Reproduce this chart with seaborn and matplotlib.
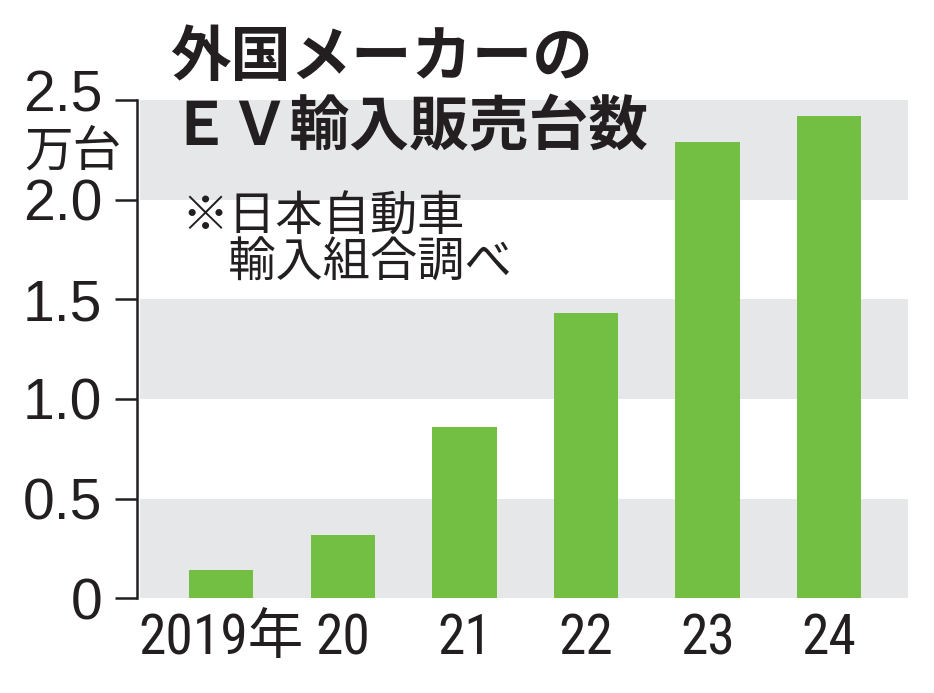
import matplotlib
matplotlib.use('Agg')
import matplotlib.pyplot as plt
import matplotlib.transforms as mtrans
import seaborn as sns
import pandas as pd

years = ["2019年", "20", "21", "22", "23", "24"]
sales = [0.14, 0.32, 0.86, 1.43, 2.29, 2.42]
yticks = [0, 0.5, 1.0, 1.5, 2.0, 2.5]
ytick_labels = ["0", "0.5", "1.0", "1.5", "2.0", "2.5"]
title_lines = ["外国メーカーの", "ＥＶ輸入販売台数"]
note_lines = ["※日本自動車", "　輸入組合調べ"]
unit = "万台"

sns.set_theme(style="white")
plt.rcParams['font.family'] = ['Noto Sans CJK JP', 'DejaVu Sans']

NUM_FONT = ['Roboto Condensed', 'Liberation Sans Narrow', 'DejaVu Sans', 'Noto Sans CJK JP']
Y_FONT = ['Liberation Sans', 'DejaVu Sans']
DARK = '#231F20'
GREEN = '#72BF44'
GREY = '#E6E7E8'

W, H = 934, 693
fig = plt.figure(figsize=(W / 100, H / 100), dpi=100)
ax = fig.add_axes([137 / W, (H - 598.3) / H, (908 - 137) / W, (598.3 - 100) / H])

df = pd.DataFrame({"year": years, "sales": sales})
sns.barplot(data=df, x="year", y="sales", color=GREEN, width=0.53,
            saturation=1, ax=ax, zorder=3, order=years, linewidth=0)

for i in range(0, len(yticks) - 1, 2):
    ax.axhspan(yticks[i], yticks[i + 1], xmin=0.004, xmax=1, color=GREY, lw=0, zorder=0)

ax.set_xlim(-0.692, 5.648)
ax.set_ylim(0, 2.5)
ax.set_yticks(yticks)
ax.set_yticklabels(ytick_labels)
ax.set_xlabel('')
ax.set_ylabel('')
for s in ['top', 'right', 'bottom']:
    ax.spines[s].set_visible(False)
ax.spines['left'].set_color(DARK)
ax.spines['left'].set_linewidth(1.8)
ax.tick_params(axis='y', length=16, width=1.8, color=DARK, direction='out', pad=9, left=True)
ax.tick_params(axis='x', length=0, pad=10)
for lab in ax.get_xticklabels():
    lab.set_family(NUM_FONT)
    lab.set_stretch('condensed')
    lab.set_fontsize(40)
    lab.set_color(DARK)
for lab in ax.get_yticklabels():
    lab.set_family(Y_FONT)
    lab.set_fontsize(41)
    lab.set_color(DARK)

# raise the top tick label to make room for the unit
top_lab = ax.yaxis.get_major_ticks()[-1].label1
top_lab.set_transform(top_lab.get_transform() +
                      mtrans.ScaledTranslation(0, 10 / 100, fig.dpi_scale_trans))

fig.text(170 / W, 1 - 58 / H, title_lines[0], fontsize=43.5, fontweight='bold',
         va='center', ha='left', color=DARK, zorder=5)
fig.text(170 / W, 1 - 128 / H, title_lines[1], fontsize=43, fontweight='bold',
         va='center', ha='left', color=DARK, zorder=5)
fig.text(181 / W, 1 - 217 / H, note_lines[0], fontsize=34,
         va='center', ha='left', color=DARK, zorder=5)
fig.text(181 / W, 1 - 263 / H, note_lines[1], fontsize=34,
         va='center', ha='left', color=DARK, zorder=5)
fig.text(24 / W, 1 - 152 / H, unit, fontsize=35,
         va='center', ha='left', color=DARK, zorder=5)

fig.savefig('out.png', dpi=100, facecolor='white')
